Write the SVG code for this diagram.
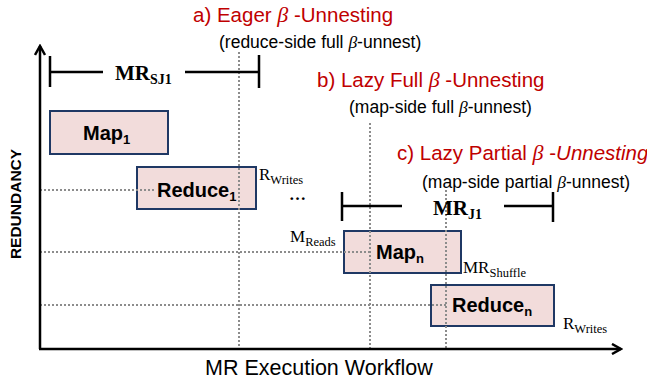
<svg xmlns="http://www.w3.org/2000/svg" width="647" height="385" viewBox="0 0 647 385">
<defs>
<style>
.box{fill:#F2DCDB;stroke:#1F3864;stroke-width:2}
.bt{font-family:"Liberation Sans",Arial,sans-serif;font-weight:bold;font-size:20px;fill:#000}
.bs{font-size:13px}
.dot{stroke:#8C8C8C;stroke-width:2;stroke-dasharray:2 2;fill:none}
.ax{stroke:#000;stroke-width:2.5;fill:none}
.br{stroke:#000;stroke-width:2.5;fill:none}
.red{font-family:"Liberation Sans",Arial,sans-serif;font-size:20.5px;fill:#C00000}
.sub{font-family:"Liberation Sans",Arial,sans-serif;font-size:17.5px;fill:#000}
.beta{font-family:"Liberation Serif",serif;font-style:italic}
.tm{font-family:"Liberation Serif","Times New Roman",serif;fill:#000;font-size:17px}
.tms{font-size:12.5px}
.mr{font-family:"Liberation Serif","Times New Roman",serif;font-weight:bold;fill:#000;font-size:21px}
.mrs{font-size:14px}
</style>
<marker id="arr" viewBox="0 0 12 12" refX="10" refY="6" markerWidth="12" markerHeight="12" markerUnits="userSpaceOnUse" orient="auto">
<path d="M1,1 L10,6 L1,11" fill="none" stroke="#000" stroke-width="2.5"/>
</marker>
</defs>

<g id="map1">
<rect class="box" x="50" y="111" width="118" height="43"/>
<text class="bt" x="83" y="140">Map<tspan class="bs" dy="4">1</tspan></text>
</g>
<g id="reduce1">
<rect class="box" x="137" y="167" width="119" height="42"/>
</g>
<g id="mapn">
<rect class="box" x="344" y="231" width="117" height="42"/>
</g>
<g id="reducen">
<rect class="box" x="431" y="285" width="123" height="41"/>
</g>

<g id="connectors">
<line class="dot" x1="239" y1="52" x2="239" y2="349"/>
<line class="dot" x1="370" y1="123" x2="370" y2="349"/>
<line class="dot" x1="446" y1="190" x2="446" y2="349"/>
<line class="dot" x1="40" y1="190" x2="156" y2="190"/>
<line class="dot" x1="40" y1="252" x2="370" y2="252"/>
<line class="dot" x1="40" y1="305" x2="446" y2="305"/>
<line class="ax" x1="40" y1="349" x2="40" y2="46" marker-end="url(#arr)"/>
<line class="ax" x1="39" y1="349" x2="621" y2="349" marker-end="url(#arr)"/>
<path class="br" d="M50,56 V87 M50,72 H103 M185,72 H259 M259,55 V88"/>
<path class="br" d="M342,192 V221 M342,206 H402 M504,206 H553 M553,192 V222"/>
</g>

<g id="box-labels">
<text class="bt" x="157" y="197">Reduce<tspan class="bs" dy="4">1</tspan></text>
<text class="bt" x="376" y="259">Map<tspan class="bs" dy="4">n</tspan></text>
<text class="bt" x="452" y="312">Reduce<tspan class="bs" dy="4">n</tspan></text>
</g>

<g id="titles">
<text class="red" x="193" y="22">a) Eager <tspan class="beta" font-size="22">β</tspan> -Unnesting</text>
<text class="sub" x="219" y="48">(reduce-side full <tspan class="beta">β</tspan>-unnest)</text>
<text class="red" x="317" y="87">b)  Lazy Full <tspan class="beta" font-size="22">β</tspan> -Unnesting</text>
<text class="sub" x="349" y="113">(map-side full <tspan class="beta">β</tspan>-unnest)</text>
<text class="red" x="397" y="160">c)  Lazy Partial <tspan class="beta" font-size="22">β</tspan> -<tspan font-style="italic">Unnesting</tspan></text>
<text class="sub" x="422" y="188">(map-side partial <tspan class="beta">β</tspan>-unnest)</text>
</g>

<g id="annotations">
<text class="mr" x="115" y="80">MR<tspan class="mrs" dy="4">SJ1</tspan></text>
<text class="mr" x="433" y="215">MR<tspan class="mrs" dy="4">J1</tspan></text>
<text class="tm" x="259" y="180">R<tspan class="tms" dy="4">Writes</tspan></text>
<text class="tm" x="289" y="200" font-weight="bold" font-size="22">…</text>
<text class="tm" x="290" y="242">M<tspan class="tms" dy="4">Reads</tspan></text>
<text class="tm" x="463" y="273">MR<tspan class="tms" dy="4">Shuffle</tspan></text>
<text class="tm" x="563" y="329">R<tspan class="tms" dy="4">Writes</tspan></text>
</g>

<g id="axis-labels">
<text font-family="'Liberation Sans',Arial,sans-serif" font-weight="bold" font-size="15.5" text-anchor="middle" transform="translate(21,204) rotate(-90)">REDUNDANCY</text>
<text font-family="'Liberation Sans',Arial,sans-serif" font-size="21.5" x="205" y="375">MR Execution Workflow</text>
</g>
</svg>
